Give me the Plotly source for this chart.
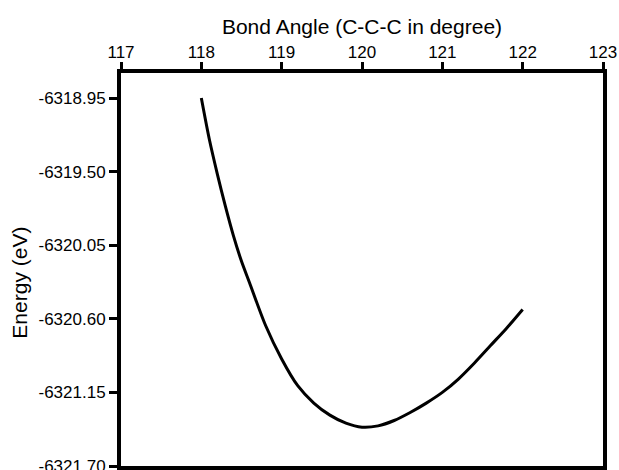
import plotly.graph_objects as go

# bond angle (degree) and total energy (eV)
angle = [118.0, 118.1, 118.2, 118.3, 118.4, 118.5, 118.6, 118.8, 119.0, 119.2,
         119.4, 119.6, 119.8, 120.0, 120.2, 120.4, 120.6, 120.8, 121.0, 121.2,
         121.4, 121.6, 121.8, 122.0]
energy = [-6318.95, -6319.26, -6319.52, -6319.76, -6319.98, -6320.17, -6320.33,
          -6320.65, -6320.90, -6321.10, -6321.23, -6321.32, -6321.38, -6321.41,
          -6321.40, -6321.36, -6321.30, -6321.23, -6321.15, -6321.05, -6320.93,
          -6320.80, -6320.67, -6320.53]

x_ticks = [117, 118, 119, 120, 121, 122, 123]
y_ticks = [-6318.95, -6319.50, -6320.05, -6320.60, -6321.15, -6321.70]
y_labels = ["-6318.95", "-6319.50", "-6320.05", "-6320.60", "-6321.15", "-6321.70"]

fig = go.Figure()
fig.add_trace(go.Scatter(
    x=angle, y=energy, mode="lines",
    line=dict(color="black", width=3, shape="spline", smoothing=0.8),
))

fig.update_xaxes(
    title=dict(text="Bond Angle (C-C-C in degree)", font=dict(size=21), standoff=4),
    side="top", range=[117, 123], tickvals=x_ticks, automargin=False,
    showline=True, linecolor="black", linewidth=4, mirror=True,
    ticks="outside", ticklen=7, tickwidth=3, tickcolor="black",
    ticklabelstandoff=-3,
    showgrid=False, zeroline=False,
    tickfont=dict(size=17, color="black"),
)
fig.update_yaxes(
    range=[-6321.70, -6318.763], tickvals=y_ticks, ticktext=y_labels,
    automargin=False,
    showline=True, linecolor="black", linewidth=4, mirror=True,
    ticks="outside", ticklen=8, tickwidth=3, tickcolor="black",
    showgrid=False, zeroline=False,
    tickfont=dict(size=17, color="black"),
)

# y title placed as in the reference (a bit below the axis middle)
fig.add_annotation(
    text="Energy (eV)", textangle=-90, showarrow=False,
    xref="paper", yref="paper", x=-0.21, y=0.466,
    xanchor="center", yanchor="middle",
    font=dict(size=21, color="black"),
)

# a bit taller than the window so the lowest tick label is cut like the original
fig.update_layout(
    width=619, height=478,
    margin=dict(l=121, r=16, t=73, b=12),
    plot_bgcolor="white", paper_bgcolor="white",
    font=dict(family="Liberation Sans, Arial, sans-serif", color="black"),
    showlegend=False,
)

fig.write_html(
    "out.html",
    config={"displayModeBar": False},
    post_script="document.body.style.margin='0';document.body.style.overflow='hidden';",
)
